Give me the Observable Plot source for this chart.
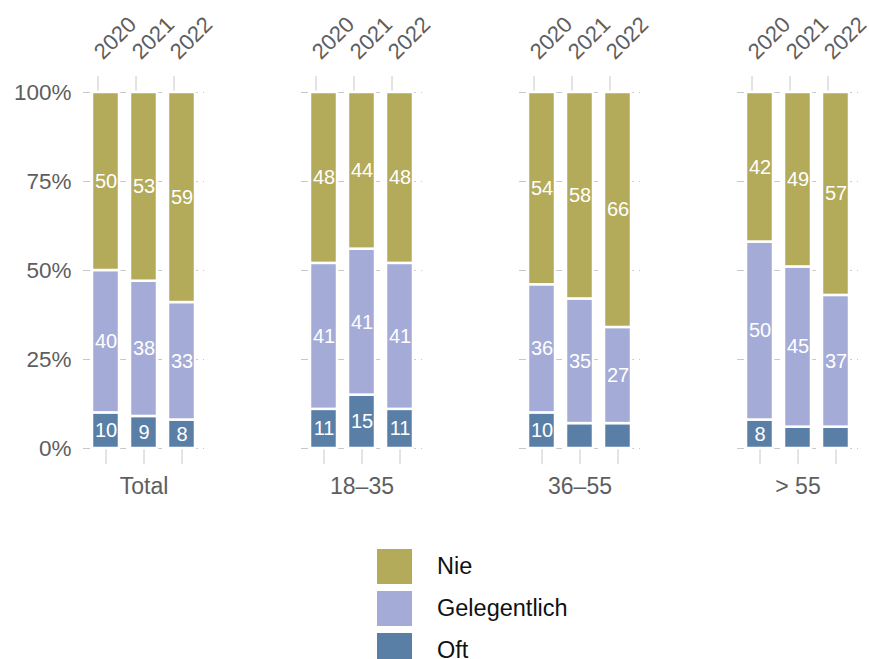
<!DOCTYPE html>
<html>
<head>
<meta charset="utf-8">
<script src="https://cdn.jsdelivr.net/npm/d3@7"></script>
<script src="https://cdn.jsdelivr.net/npm/@observablehq/plot@0.6"></script>
<style>
  body { margin: 0; background: #fff; font-family: "Liberation Sans", Arial, sans-serif; }
  #chart { position: relative; width: 869px; height: 659px; overflow: hidden; }
  .legend { position: absolute; left: 377px; top: 545px; }
  .legend .row { display: flex; align-items: center; height: 42px; }
  .legend .sw { width: 35px; height: 35px; margin-right: 25px; }
  .legend .lb { font-size: 23.5px; color: #111; }
</style>
</head>
<body>
<div id="chart"></div>
<script>
const groups = ["Total", "18–35", "36–55", "> 55"];
const years = ["2020", "2021", "2022"];
const categories = ["Oft", "Gelegentlich", "Nie"];
const colors = ["#5a7fa6", "#a3abd6", "#b3aa5a"];
const yTicks = [0, 25, 50, 75, 100];

// values per group, per year
const oft          = [[10, 9, 8], [11, 15, 11], [10, 7, 7], [8, 6, 6]];
const gelegentlich = [[40, 38, 33], [41, 41, 41], [36, 35, 27], [50, 45, 37]];
const nie          = [[50, 53, 59], [48, 44, 48], [54, 58, 66], [42, 49, 57]];

const series = [oft, gelegentlich, nie];
const data = [];
groups.forEach((g, gi) => {
  years.forEach((yr, yi) => {
    categories.forEach((c, ci) => {
      data.push({group: g, year: yr, cat: c, value: series[ci][gi][yi]});
    });
  });
});

const plot = Plot.plot({
  width: 869,
  height: 525,
  marginTop: 92,
  marginBottom: 77,
  marginLeft: 82,
  marginRight: 11,
  style: {fontFamily: "Liberation Sans, Arial, sans-serif", fontSize: "21px", color: "#5e5e5e", background: "white", overflow: "visible"},
  fx: {domain: groups, paddingInner: 0.445, paddingOuter: 0},
  x: {domain: years, paddingInner: 0.29, paddingOuter: 0.237},
  y: {domain: [0, 100], label: null},
  color: {domain: categories, range: colors},
  marks: [
    Plot.gridY(yTicks, {stroke: "#c8c8c8", strokeOpacity: 1, strokeDasharray: "7,5", strokeWidth: 1.2}),
    Plot.axisY({ticks: yTicks, tickSize: 0, tickPadding: 12, tickFormat: d => d + "%", fontSize: 22.5, label: null}),
    Plot.axisX({anchor: "top", tickRotate: -45, tickSize: 17, tickPadding: 20, dx: -8, stroke: "#c8c8c8", fontSize: 22, label: null}),
    Plot.axisX({anchor: "bottom", tickSize: 16, tickFormat: () => "", stroke: "#c8c8c8", label: null}),
    Plot.axisFx({anchor: "bottom", tickSize: 0, tickPadding: 29, fontSize: 23, label: null}),
    Plot.barY(data, Plot.stackY({fx: "group", x: "year", y: "value", fill: "cat", stroke: "white", strokeWidth: 2.5})),
    Plot.text(data, Plot.stackY({fx: "group", x: "year", y: "value", z: "cat", text: d => d.value >= 8 ? String(d.value) : "", fill: "white", fontSize: 20}))
  ]
});

const chart = document.getElementById("chart");
chart.appendChild(plot);

const legend = document.createElement("div");
legend.className = "legend";
for (let i = categories.length - 1; i >= 0; i--) {
  const row = document.createElement("div");
  row.className = "row";
  const sw = document.createElement("div");
  sw.className = "sw";
  sw.style.background = colors[i];
  const lb = document.createElement("div");
  lb.className = "lb";
  lb.textContent = categories[i];
  row.appendChild(sw);
  row.appendChild(lb);
  legend.appendChild(row);
}
chart.appendChild(legend);
</script>
</body>
</html>
